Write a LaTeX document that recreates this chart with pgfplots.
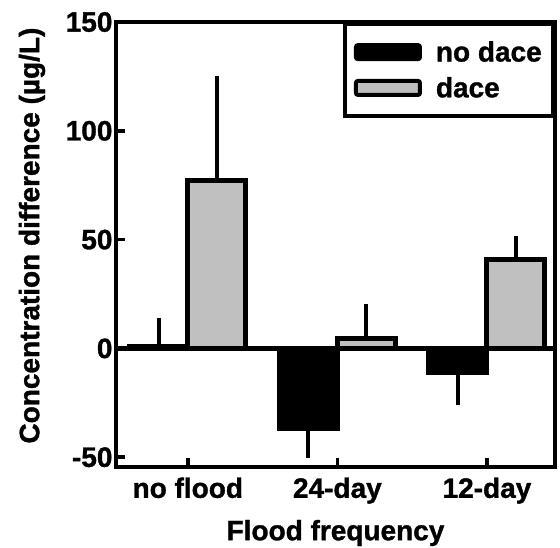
\documentclass[border=0pt]{standalone}
\usepackage{fontspec}
\setmainfont{Liberation Sans}[BoldFeatures={FakeBold=1.2}]
\usepackage{pgfplots}
\pgfplotsset{compat=1.18}
\definecolor{barfill}{RGB}{192,192,192}
\begin{document}
\begin{tikzpicture}
\path[use as bounding box] (-116pt,-81pt) rectangle (444pt,467pt);
\begin{axis}[
  at={(0,0)}, anchor=south west,
  scale only axis, width=439pt, height=445pt,
  xmin=-0.48, xmax=2.455, ymin=-54.5, ymax=150,
  axis line style={line width=4.5pt},
  ybar=0pt, bar width=58pt,
  xtick={0,1,2}, xticklabels={no flood,24-day,12-day},
  ytick={-50,0,50,100,150}, yticklabels={-50,0,50,100,150},
  tick align=inside, xtick pos=left, ytick pos=left,
  major tick length=9pt,
  tick style={line width=3.5pt, black},
  ticklabel style={font=\fontsize{28}{32}\selectfont\bfseries},
  xticklabel style={yshift=-7pt},
  every axis x label/.style={at={(rel axis cs:0.5,0)}, yshift=-66pt, anchor=center,
    font=\fontsize{28}{32}\selectfont\bfseries},
  every axis y label/.style={at={(rel axis cs:0,0.52)}, xshift=-84pt, rotate=90, anchor=center,
    font=\fontsize{28}{32}\selectfont\bfseries},
  xlabel={Flood frequency},
  ylabel={Concentration difference (µg/L)},
  error bars/y dir=both, error bars/y explicit,
  error bars/error mark=none,
  error bars/error bar style={line width=4pt, black},
  legend style={at={(rel axis cs:1,1)}, anchor=north east, draw=black, line width=4.5pt,
    font=\fontsize{28}{32}\selectfont\bfseries, inner xsep=9pt, inner ysep=15pt,
    row sep=10pt, cells={anchor=west},
    /tikz/every odd column/.append style={column sep=12pt}},
  legend cell align=left,
  legend image code/.code={\draw[#1, line width=4pt, rounded corners=2pt] (0pt,-7pt) rectangle (64pt,7pt);},
]
% no dace
\addplot[fill=black, draw=black, line width=5pt] coordinates {
  (0,1)    += (0,13)   -= (0,0)
  (1,-37)  += (0,0)    -= (0,13.5)
  (2,-11)  += (0,0)    -= (0,15)
};
% dace
\addplot[fill=barfill, draw=black, line width=5pt] coordinates {
  (0,77)   += (0,48)   -= (0,0)
  (1,4.6)  += (0,16)   -= (0,0)
  (2,41)   += (0,10.5) -= (0,0)
};
\legend{no dace, dace}
\draw[line width=4.5pt] (axis cs:-0.48,0) -- (axis cs:2.455,0);
\end{axis}
\end{tikzpicture}
\end{document}
